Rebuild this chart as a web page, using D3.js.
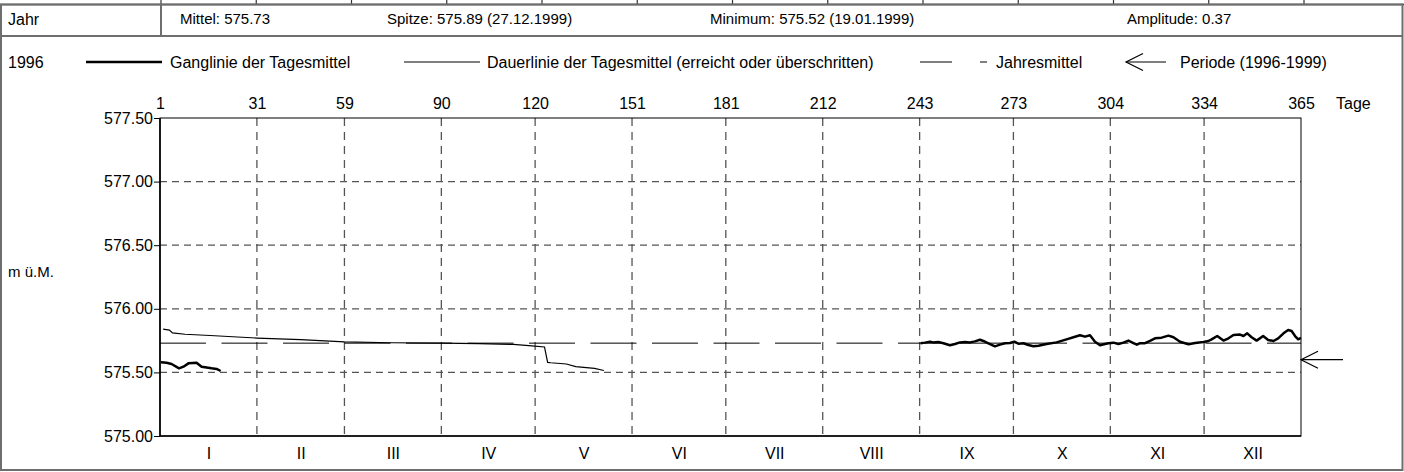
<!DOCTYPE html>
<html><head><meta charset="utf-8">
<script src="https://cdn.jsdelivr.net/npm/d3@7/dist/d3.min.js"></script>
<style>
html,body{margin:0;padding:0;background:#fff;}
svg{display:block;font-family:"Liberation Sans",Arial,sans-serif;}
</style></head>
<body>
<svg id="chart" width="1404" height="472"></svg>
<script>
// ---- data ----
const monthEnds = [0,31,59,90,120,151,181,212,243,273,304,334,365];
const dayLabels = ["1","31","59","90","120","151","181","212","243","273","304","334","365"];
const monthLabels = ["I","II","III","IV","V","VI","VII","VIII","IX","X","XI","XII"];
const yTicks = [575.00,575.50,576.00,576.50,577.00,577.50];
const yGrid = [575.50,576.00,576.50,577.00];

const yearLabel = "1996";
const statsTexts = ["Mittel: 575.73","Spitze: 575.89 (27.12.1999)","Minimum: 575.52 (19.01.1999)","Amplitude: 0.37"];
const legendTexts = ["Ganglinie der Tagesmittel","Dauerlinie der Tagesmittel (erreicht oder überschritten)","Jahresmittel","Periode (1996-1999)"];
const yearMean = 575.73;
const periodMean = 575.60;

// Ganglinie der Tagesmittel (two segments with data)
const janDays   = [0.3,2.1,3.7,6.1,7.5,9.1,11.7,13.3,16.5,18.1,19.4];
const janValues = [575.579,575.576,575.566,575.532,575.545,575.571,575.576,575.545,575.532,575.527,575.511];

const autDays = [243.3,244.7,246.3,247.4,249,250.6,252.7,254.3,255.9,257.5,259.1,260.7,262.3,263.4,265,267.1,268.7,270.3,271.9,273.3,
  274.6,276.2,277.8,279.4,281,283.6,286.8,290,292.2,294.3,295.9,297.5,299.1,300.7,302.3,303.4,305,306.6,308.2,309.8,
  311.4,312.5,313.5,315.1,316.7,318.3,320.4,322.6,324.2,326.3,329,331.1,333.8,335.4,336.4,338.2,340.2,341.8,343.4,345.5,
  346.6,347.8,349.2,350.8,352.9,354.5,356.2,357.7,359.4,360.9,362,363.1,364.1,365];
const autValues = [575.729,575.734,575.741,575.736,575.739,575.729,575.713,575.723,575.736,575.739,575.736,575.744,575.757,575.747,575.729,575.705,575.718,575.729,575.731,575.741,
  575.726,575.729,575.715,575.705,575.710,575.723,575.736,575.760,575.776,575.792,575.781,575.792,575.741,575.713,575.723,575.729,575.734,575.723,575.734,575.750,
  575.731,575.718,575.730,575.730,575.748,575.768,575.773,575.789,575.776,575.741,575.721,575.731,575.739,575.747,575.760,575.786,575.750,575.768,575.794,575.797,
  575.786,575.807,575.776,575.750,575.786,575.755,575.747,575.768,575.807,575.833,575.825,575.786,575.760,575.771];

// Dauerlinie der Tagesmittel (erreicht oder überschritten)
const durDays   = [1,3,4,8,16,31,45,59,74,90,102,113,118,123,124,125,130,133,139,142];
const durValues = [575.840,575.833,575.810,575.800,575.790,575.770,575.757,575.740,575.733,575.730,575.726,575.720,575.710,575.700,575.579,575.576,575.566,575.545,575.532,575.515];

// ---- drawing ----
const svg = d3.select("#chart");
const FF = "Liberation Sans, Arial, sans-serif";
const frameCol = "#6e6e6e";

const x = d3.scaleLinear().domain([0,365]).range([160,1301]);
const y = d3.scaleLinear().domain([575,577.5]).range([436,118]);

// top strip (part of the table above)
const strip = d3.scaleLinear().domain([0,12]).range([161,1304]);
svg.append("line").attr("x1",0).attr("x2",1404).attr("y1",4.5).attr("y2",4.5).attr("stroke","#333").attr("stroke-width",1.5);
svg.selectAll("line.strip").data(d3.range(13)).join("line").attr("class","strip")
  .attr("x1",d=>strip(d)).attr("x2",d=>strip(d)).attr("y1",0).attr("y2",4.5).attr("stroke","#333").attr("stroke-width",1.2);

// outer frame
svg.append("rect").attr("x",1).attr("y",4.5).attr("width",1401.5).attr("height",465.5)
  .attr("fill","none").attr("stroke",frameCol).attr("stroke-width",2);
svg.append("line").attr("x1",1).attr("x2",1402.5).attr("y1",36).attr("y2",36).attr("stroke",frameCol).attr("stroke-width",2);
svg.append("line").attr("x1",161).attr("x2",161).attr("y1",4.5).attr("y2",36).attr("stroke",frameCol).attr("stroke-width",2);

// header row
svg.append("text").attr("x",8).attr("y",19).attr("dy","0.35em").attr("font-size",16).text("Jahr");
const statX = [180,387,710,1127];
svg.selectAll("text.stat").data(statsTexts).join("text").attr("class","stat")
  .attr("x",(d,i)=>statX[i]).attr("y",19).attr("dy","0.35em").attr("font-size",15).text(d=>d);

// legend row
const ly = 62, LF = 16;
function arrow(g,x0,x1,yy){
  g.append("line").attr("x1",x0).attr("x2",x1).attr("y1",yy).attr("y2",yy).attr("stroke","#000").attr("stroke-width",1.2);
  g.append("path").attr("d",`M${x0+17},${yy-8.5}L${x0},${yy}L${x0+17},${yy+8.5}`).attr("fill","none").attr("stroke","#000").attr("stroke-width",1.2);
}
svg.append("text").attr("x",8).attr("y",ly).attr("dy","0.35em").attr("font-size",LF).text(yearLabel);
svg.append("line").attr("x1",86).attr("x2",162).attr("y1",ly).attr("y2",ly).attr("stroke","#000").attr("stroke-width",2.5);
svg.append("line").attr("x1",404).attr("x2",480).attr("y1",ly).attr("y2",ly).attr("stroke","#000").attr("stroke-width",1);
svg.append("line").attr("x1",920).attr("x2",952).attr("y1",ly).attr("y2",ly).attr("stroke","#000").attr("stroke-width",1);
svg.append("line").attr("x1",980).attr("x2",987).attr("y1",ly).attr("y2",ly).attr("stroke","#000").attr("stroke-width",1);
arrow(svg,1126,1166,ly);
const legX = [170,487,996,1180];
svg.selectAll("text.leg").data(legendTexts).join("text").attr("class","leg")
  .attr("x",(d,i)=>legX[i]).attr("y",ly).attr("dy","0.35em").attr("font-size",LF).text(d=>d);

// grid
const grid = svg.append("g");
grid.selectAll("line.h").data(yGrid).join("line").attr("class","h")
  .attr("x1",x(0)).attr("x2",x(365)).attr("y1",d=>y(d)).attr("y2",d=>y(d))
  .attr("stroke","#555").attr("stroke-width",1.3).attr("stroke-dasharray","7,5");
grid.selectAll("line.v").data(monthEnds.slice(1,12)).join("line").attr("class","v")
  .attr("x1",d=>x(d)).attr("x2",d=>x(d)).attr("y1",y(577.5)).attr("y2",y(575))
  .attr("stroke","#555").attr("stroke-width",1.3).attr("stroke-dasharray","8,6");

// year mean (long dash)
svg.append("line").attr("x1",x(0)).attr("x2",x(365)).attr("y1",y(yearMean)).attr("y2",y(yearMean))
  .attr("stroke","#000").attr("stroke-width",1).attr("stroke-dasharray","46,15.5");

// Dauerlinie
const line = d3.line().x(d=>x(d[0])).y(d=>y(d[1]));
svg.append("path").datum(d3.zip(durDays,durValues)).attr("d",line)
  .attr("fill","none").attr("stroke","#000").attr("stroke-width",1.2);

// Ganglinie
[d3.zip(janDays,janValues), d3.zip(autDays,autValues)].forEach(seg=>{
  svg.append("path").datum(seg).attr("d",line)
    .attr("fill","none").attr("stroke","#000").attr("stroke-width",2.5).attr("stroke-linejoin","round");
});

// plot frame
svg.append("rect").attr("x",x(0)).attr("y",y(577.5)).attr("width",x(365)-x(0)).attr("height",y(575)-y(577.5))
  .attr("fill","none").attr("stroke","#000").attr("stroke-width",1);
svg.append("line").attr("x1",x(0)).attr("x2",x(0)).attr("y1",y(577.5)).attr("y2",y(575)).attr("stroke","#000").attr("stroke-width",1.6);
svg.append("line").attr("x1",x(0)).attr("x2",x(365)).attr("y1",y(575)).attr("y2",y(575)).attr("stroke","#000").attr("stroke-width",1.6);

// top day axis
const ax = svg.append("g").attr("transform",`translate(0,${y(577.5)})`)
  .call(d3.axisTop(x).tickValues(monthEnds).tickFormat((d,i)=>dayLabels[i]).tickSize(0).tickPadding(9));
ax.select(".domain").remove();
ax.selectAll("text").attr("font-size",16).attr("font-family",FF).attr("fill","#000");
svg.append("text").attr("x",1336).attr("y",y(577.5)-15).attr("dy","0.35em").attr("font-size",16).text("Tage");

// left value axis
const ay = svg.append("g").attr("transform",`translate(${x(0)},0)`)
  .call(d3.axisLeft(y).tickValues(yTicks).tickFormat(d3.format(".2f")).tickSize(6).tickPadding(1));
ay.select(".domain").remove();
ay.selectAll("line").attr("stroke","#000");
ay.selectAll("text").attr("font-size",16).attr("font-family",FF).attr("fill","#000");
svg.append("text").attr("x",8).attr("y",272).attr("dy","0.35em").attr("font-size",15).text("m ü.M.");

// month labels
const monthMid = monthLabels.map((m,i)=>(monthEnds[i]+monthEnds[i+1])/2);
const am = svg.append("g").attr("transform",`translate(0,${y(575)})`)
  .call(d3.axisBottom(x).tickValues(monthMid).tickFormat((d,i)=>monthLabels[i]).tickSize(0).tickPadding(12));
am.select(".domain").remove();
am.selectAll("text").attr("font-size",16).attr("font-family",FF).attr("fill","#000");

// period arrow
arrow(svg,x(365),x(365)+42,y(periodMean));
</script>
</body></html>
